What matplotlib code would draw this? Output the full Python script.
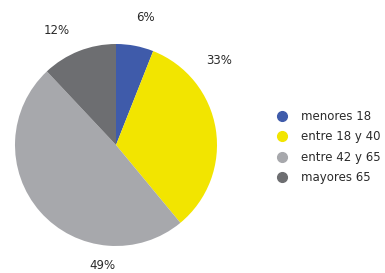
import matplotlib
matplotlib.use("Agg")
import matplotlib.pyplot as plt
from matplotlib.lines import Line2D

# data
labels = ["menores 18", "entre 18 y 40", "entre 42 y 65", "mayores 65"]
values = [6, 33, 49, 12]
colors = ["#3F5BAA", "#F2E500", "#A7A8AC", "#6D6E71"]
# label positions, in pie radius units
label_pos = [(0.29, 1.26), (1.02, 0.84), (-0.13, -1.19), (-0.59, 1.13)]

fig = plt.figure(figsize=(3.85, 2.73), dpi=100)
ax = fig.add_axes([15 / 385, 27 / 273, 202 / 385, 202 / 273])
ax.pie(values, colors=colors, startangle=90, counterclock=False,
       wedgeprops=dict(linewidth=0))
ax.set_xlim(-1, 1)
ax.set_ylim(-1, 1)
ax.set_aspect("equal")
ax.axis("off")

for v, (x, y) in zip(values, label_pos):
    ax.text(x, y, f"{v}%", ha="center", va="center", fontsize=8.5,
            color="#2a2a2a", clip_on=False)

handles = [Line2D([], [], marker="o", linestyle="", markersize=7,
                  markerfacecolor=c, markeredgecolor=c) for c in colors]
fig.legend(handles, labels, loc="center left", bbox_to_anchor=(270 / 385, 1 - 147 / 273),
           frameon=False, fontsize=8.5, handlelength=1.2, handletextpad=1.0,
           labelspacing=0.62, borderaxespad=0, labelcolor="#2a2a2a")

fig.savefig("out.png", dpi=100)
